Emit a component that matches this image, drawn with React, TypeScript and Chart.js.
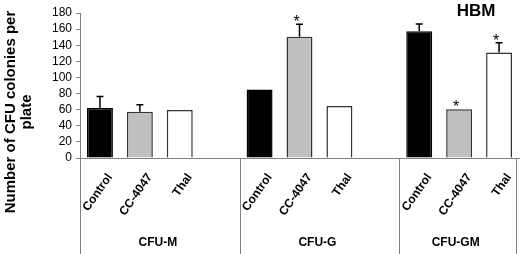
import { useEffect, useRef } from 'react';
import { Chart, registerables } from 'chart.js';

Chart.register(...registerables);

const groups = ['CFU-M', 'CFU-G', 'CFU-GM'];
const treatments = ['Control', 'CC-4047', 'Thal'];
const controlValues = [62, 85, 157.5];
const cc4047Values = [57.5, 150.5, 60.5];
const thalValues = [59.5, 64.5, 131];
const controlErrors = [14.5, 0, 9];
const cc4047Errors = [8.5, 15.5, 0];
const thalErrors = [0, 0, 12];
const controlSignificant = [false, false, false];
const cc4047Significant = [false, true, true];
const thalSignificant = [false, false, true];
const yTickValues = [0, 20, 40, 60, 80, 100, 120, 140, 160, 180];
const yTitleLines = ['Number of CFU colonies per', 'plate'];
const panelTitle = 'HBM';

const FONT = '"Liberation Sans", Arial, sans-serif';
const fills = ['#000000', '#c0c0c0', '#ffffff'];
const borders = ['#000000', '#333333', '#333333'];

type Slot = { label: string; group: number; treatment: number; value: number | null; error: number; sig: boolean };

function buildSlots(): Slot[] {
  const series = [controlValues, cc4047Values, thalValues];
  const errs = [controlErrors, cc4047Errors, thalErrors];
  const sigs = [controlSignificant, cc4047Significant, thalSignificant];
  const slots: Slot[] = [];
  groups.forEach((_, g) => {
    treatments.forEach((t, ti) => {
      slots.push({ label: t, group: g, treatment: ti, value: series[ti][g], error: errs[ti][g], sig: sigs[ti][g] });
    });
    if (g < groups.length - 1) slots.push({ label: '', group: g, treatment: -1, value: null, error: 0, sig: false });
  });
  return slots;
}

export default function App() {
  const ref = useRef<HTMLCanvasElement | null>(null);
  useEffect(() => {
    const canvas = ref.current;
    if (!canvas) return;
    const slots = buildSlots();
    const overlay = {
      id: 'overlay',
      afterDraw(chart: any) {
        const ctx = chart.ctx as CanvasRenderingContext2D;
        const xs = chart.scales.x;
        const ys = chart.scales.y;
        const n = slots.length;
        const sw = (xs.right - xs.left) / n;
        const bottom = chart.height;
        ctx.save();
        ctx.strokeStyle = '#808080';
        ctx.lineWidth = 1;
        const bounds: number[] = [];
        groups.forEach((_, g) => {
          const first = slots.findIndex((s) => s.group === g);
          bounds.push(xs.left + first * sw);
        });
        bounds.push(xs.right - 3);
        bounds.forEach((bx) => {
          const px = Math.round(bx) + 0.5;
          ctx.beginPath();
          ctx.moveTo(px, ys.bottom);
          ctx.lineTo(px, bottom);
          ctx.stroke();
        });
        ctx.fillStyle = '#000';
        ctx.font = `bold 12px ${FONT}`;
        slots.forEach((s, i) => {
          if (!s.label) return;
          const cx = xs.getPixelForValue(i);
          ctx.save();
          ctx.translate(cx + 10, ys.bottom + 17);
          ctx.rotate((-55 * Math.PI) / 180);
          ctx.textAlign = 'right';
          ctx.textBaseline = 'middle';
          ctx.fillText(s.label, 0, 0);
          ctx.restore();
        });
        ctx.textAlign = 'center';
        ctx.textBaseline = 'middle';
        groups.forEach((gname, g) => {
          const cx = (bounds[g] + bounds[g + 1]) / 2 - 2;
          ctx.fillText(gname, cx, 243);
        });
        const meta = chart.getDatasetMeta(0);
        ctx.strokeStyle = '#000';
        ctx.lineWidth = 1.5;
        slots.forEach((s, i) => {
          if (s.value == null) return;
          const bar = meta.data[i];
          const cx = bar.x;
          let topY = ys.getPixelForValue(s.value);
          if (s.error > 0) {
            const ey = ys.getPixelForValue(s.value + s.error);
            ctx.beginPath();
            ctx.moveTo(cx, topY);
            ctx.lineTo(cx, ey);
            ctx.moveTo(cx - 3.5, ey);
            ctx.lineTo(cx + 3.5, ey);
            ctx.stroke();
            topY = ey;
          }
          if (s.sig) {
            ctx.font = `16px ${FONT}`;
            ctx.textAlign = 'center';
            ctx.textBaseline = 'alphabetic';
            ctx.fillText('*', cx - 3, topY + 3);
          }
        });
        ctx.font = `bold 15px ${FONT}`;
        ctx.textAlign = 'center';
        ctx.textBaseline = 'alphabetic';
        const baseXs = [15, 31];
        yTitleLines.forEach((line, li) => {
          ctx.save();
          ctx.translate(baseXs[li], 112);
          ctx.rotate(-Math.PI / 2);
          ctx.fillText(line, 0, 0);
          ctx.restore();
        });
        ctx.font = `bold 17px ${FONT}`;
        ctx.textAlign = 'center';
        ctx.fillText(panelTitle, 476, 16);
        ctx.restore();
      },
    };
    const chart = new Chart(canvas, {
      type: 'bar',
      data: {
        labels: slots.map((s) => s.label),
        datasets: [
          {
            data: slots.map((s) => s.value) as any,
            backgroundColor: slots.map((s) => (s.treatment >= 0 ? fills[s.treatment] : 'transparent')),
            borderColor: slots.map((s) => (s.treatment >= 0 ? borders[s.treatment] : 'transparent')),
            borderWidth: 1.5,
            barPercentage: 0.65,
            categoryPercentage: 1,
          },
        ],
      },
      options: {
        animation: false,
        responsive: false,
        layout: { padding: { top: 13, left: 0, right: 1, bottom: 0 } },
        plugins: { legend: { display: false }, tooltip: { enabled: false }, title: { display: false } },
        scales: {
          x: {
            type: 'category',
            grid: { display: false },
            ticks: { display: false },
            border: { display: true, color: '#808080', width: 1 },
            afterFit: (s: any) => {
              s.height = 96;
            },
          },
          y: {
            min: yTickValues[0],
            max: yTickValues[yTickValues.length - 1],
            ticks: {
              stepSize: yTickValues[1] - yTickValues[0],
              autoSkip: false,
              color: '#000',
              font: { family: FONT, size: 12 },
              padding: 4,
            },
            grid: { drawOnChartArea: false, tickLength: 4, color: '#808080' },
            border: { display: true, color: '#808080', width: 1 },
            afterFit: (s: any) => {
              s.width = 80;
            },
          },
        },
      },
      plugins: [overlay],
    });
    return () => chart.destroy();
  }, []);
  return (
    <div style={{ position: 'fixed', left: 0, top: 0, width: 520, height: 254, overflow: 'hidden', background: '#fff' }}>
      <canvas ref={ref} width={520} height={254} style={{ display: 'block' }} />
    </div>
  );
}
